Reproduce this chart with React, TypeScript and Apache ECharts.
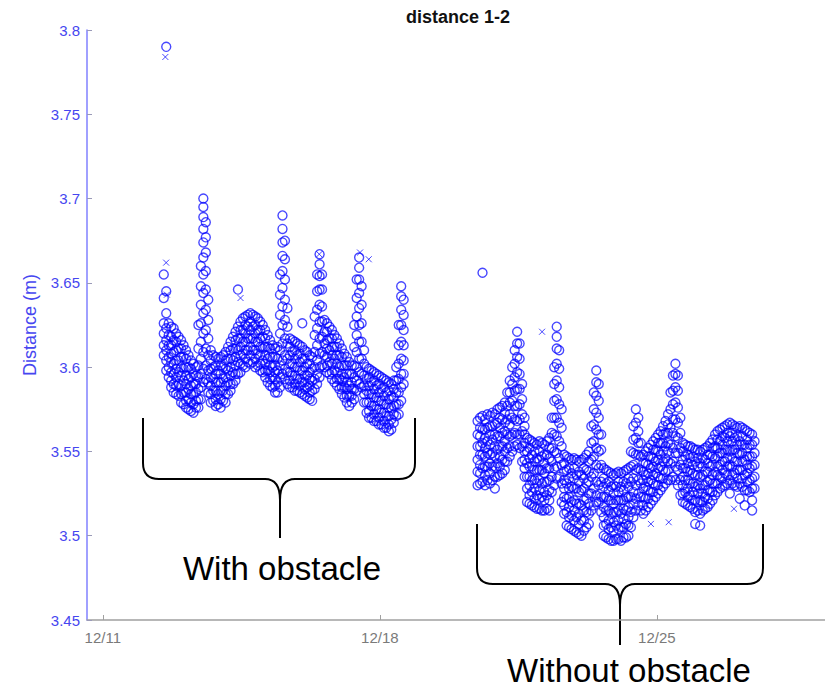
import React, { useEffect, useRef } from "react";
import * as echarts from "echarts";

// ---- Data (days after 12/11 00:00 on x, distance in metres on y) ----
const xTickDays = [0, 7, 14];
const xTickLabels = ["12/11", "12/18", "12/25"];
const yTicks = { min: 3.45, max: 3.8, step: 0.05 };

// sampling grid: one row of readings every 1.5 hours
const sampleStepDays = 1.5 / 24;
const withObstacleStart = 1.54;
const withoutObstacleStart = 9.47;

// readings per 1.5-hour slot, "With obstacle" period
const withObstacle: number[][] = [
  [3.655, 3.641, 3.626, 3.62, 3.613, 3.607],
  [3.79, 3.645, 3.632, 3.623, 3.616, 3.61, 3.604, 3.598],
  [3.626, 3.619, 3.613, 3.606, 3.6, 3.594],
  [3.624, 3.618, 3.613, 3.608, 3.603, 3.597, 3.592, 3.588],
  [3.623, 3.616, 3.609, 3.602, 3.596, 3.59, 3.585],
  [3.62, 3.615, 3.61, 3.604, 3.599, 3.594, 3.589, 3.584],
  [3.618, 3.611, 3.604, 3.597, 3.59, 3.583],
  [3.616, 3.611, 3.606, 3.6, 3.595, 3.589, 3.584, 3.579],
  [3.613, 3.606, 3.599, 3.592, 3.585, 3.578],
  [3.61, 3.605, 3.6, 3.595, 3.59, 3.585, 3.58, 3.576],
  [3.607, 3.6, 3.593, 3.587, 3.581, 3.575],
  [3.604, 3.599, 3.594, 3.589, 3.584, 3.579, 3.574],
  [3.602, 3.596, 3.59, 3.584, 3.578, 3.573],
  [3.6, 3.595, 3.59, 3.585, 3.58, 3.576],
  [3.625, 3.611, 3.601, 3.594, 3.587, 3.581, 3.576],
  [3.66, 3.648, 3.637, 3.626, 3.615, 3.605, 3.596, 3.588, 3.581],
  [3.7, 3.695, 3.689, 3.682, 3.674, 3.665, 3.655, 3.644, 3.632, 3.62, 3.609, 3.599, 3.591],
  [3.686, 3.677, 3.668, 3.657, 3.646, 3.634, 3.622, 3.611, 3.601, 3.593],
  [3.64, 3.628, 3.617, 3.607, 3.598, 3.591, 3.585],
  [3.61, 3.604, 3.599, 3.594, 3.589, 3.584, 3.579],
  [3.607, 3.6, 3.593, 3.586, 3.58],
  [3.606, 3.601, 3.596, 3.591, 3.586, 3.581, 3.577],
  [3.605, 3.598, 3.591, 3.584, 3.578],
  [3.606, 3.601, 3.596, 3.591, 3.586, 3.581, 3.576],
  [3.607, 3.6, 3.593, 3.586, 3.58],
  [3.609, 3.604, 3.599, 3.594, 3.589, 3.584, 3.579],
  [3.612, 3.605, 3.598, 3.591, 3.584],
  [3.615, 3.61, 3.605, 3.6, 3.595, 3.59, 3.586],
  [3.618, 3.611, 3.604, 3.597, 3.59],
  [3.621, 3.616, 3.611, 3.606, 3.601, 3.596, 3.592],
  [3.646, 3.624, 3.617, 3.61, 3.603, 3.596],
  [3.627, 3.622, 3.617, 3.612, 3.607, 3.602, 3.597],
  [3.629, 3.622, 3.615, 3.608, 3.601],
  [3.63, 3.625, 3.62, 3.615, 3.61, 3.605, 3.6],
  [3.631, 3.624, 3.617, 3.61, 3.603],
  [3.632, 3.627, 3.622, 3.617, 3.612, 3.607, 3.602],
  [3.631, 3.624, 3.617, 3.61, 3.603],
  [3.63, 3.625, 3.62, 3.615, 3.61, 3.605, 3.6],
  [3.629, 3.622, 3.615, 3.608, 3.601],
  [3.627, 3.622, 3.617, 3.612, 3.607, 3.602, 3.598],
  [3.625, 3.618, 3.611, 3.604, 3.597],
  [3.622, 3.617, 3.612, 3.607, 3.602, 3.598, 3.594],
  [3.619, 3.612, 3.605, 3.598, 3.591],
  [3.616, 3.611, 3.606, 3.601, 3.597, 3.593, 3.589],
  [3.613, 3.606, 3.6, 3.594, 3.588],
  [3.611, 3.606, 3.601, 3.597, 3.593, 3.589, 3.585],
  [3.612, 3.605, 3.598, 3.591, 3.585],
  [3.655, 3.643, 3.631, 3.62, 3.61, 3.601, 3.594, 3.588],
  [3.69, 3.682, 3.674, 3.666, 3.657, 3.647, 3.636, 3.625, 3.614, 3.604, 3.596],
  [3.675, 3.664, 3.652, 3.64, 3.628, 3.617, 3.607, 3.599, 3.593],
  [3.635, 3.624, 3.614, 3.605, 3.597, 3.59],
  [3.617, 3.612, 3.607, 3.602, 3.597, 3.592, 3.588],
  [3.616, 3.609, 3.602, 3.595, 3.588],
  [3.615, 3.61, 3.605, 3.6, 3.595, 3.59, 3.586],
  [3.614, 3.607, 3.6, 3.593, 3.586],
  [3.613, 3.608, 3.603, 3.598, 3.593, 3.589, 3.585],
  [3.626, 3.612, 3.605, 3.598, 3.591, 3.584],
  [3.61, 3.605, 3.6, 3.595, 3.591, 3.587, 3.583],
  [3.609, 3.602, 3.595, 3.588, 3.582],
  [3.607, 3.602, 3.597, 3.593, 3.589, 3.585, 3.581],
  [3.606, 3.599, 3.592, 3.586, 3.58],
  [3.63, 3.619, 3.609, 3.6, 3.593, 3.587],
  [3.655, 3.645, 3.634, 3.623, 3.613, 3.604, 3.596, 3.59],
  [3.667, 3.661, 3.654, 3.646, 3.637, 3.627, 3.617, 3.608, 3.6, 3.594],
  [3.655, 3.646, 3.636, 3.627, 3.618, 3.609, 3.601],
  [3.628, 3.621, 3.614, 3.607, 3.6],
  [3.626, 3.621, 3.616, 3.611, 3.606, 3.601, 3.597],
  [3.624, 3.617, 3.61, 3.603, 3.596],
  [3.622, 3.617, 3.612, 3.607, 3.602, 3.597, 3.593],
  [3.619, 3.612, 3.605, 3.598, 3.591],
  [3.617, 3.612, 3.607, 3.602, 3.597, 3.593, 3.589],
  [3.614, 3.607, 3.6, 3.593, 3.587],
  [3.611, 3.606, 3.601, 3.596, 3.592, 3.588, 3.584],
  [3.608, 3.601, 3.594, 3.588, 3.582],
  [3.606, 3.601, 3.596, 3.591, 3.587, 3.583, 3.579],
  [3.603, 3.596, 3.589, 3.583, 3.577],
  [3.601, 3.596, 3.591, 3.587, 3.583, 3.579],
  [3.625, 3.612, 3.601, 3.594, 3.587, 3.581],
  [3.652, 3.641, 3.63, 3.619, 3.609, 3.6, 3.592, 3.586],
  [3.665, 3.659, 3.652, 3.644, 3.635, 3.625, 3.615, 3.605, 3.597, 3.59],
  [3.648, 3.637, 3.626, 3.615, 3.605, 3.596, 3.588],
  [3.61, 3.602, 3.595, 3.589, 3.584, 3.579],
  [3.6, 3.593, 3.586, 3.579, 3.573],
  [3.599, 3.594, 3.589, 3.584, 3.579, 3.574, 3.57],
  [3.598, 3.591, 3.584, 3.577, 3.57],
  [3.597, 3.592, 3.587, 3.582, 3.577, 3.572, 3.568],
  [3.596, 3.589, 3.582, 3.575, 3.568],
  [3.595, 3.59, 3.585, 3.58, 3.575, 3.57, 3.566],
  [3.594, 3.587, 3.58, 3.573, 3.566],
  [3.593, 3.588, 3.583, 3.578, 3.573, 3.568, 3.564],
  [3.592, 3.585, 3.578, 3.571, 3.564],
  [3.591, 3.586, 3.581, 3.576, 3.571, 3.566, 3.562],
  [3.59, 3.583, 3.576, 3.569, 3.563],
  [3.592, 3.587, 3.582, 3.577, 3.572, 3.567],
  [3.6, 3.592, 3.585, 3.578, 3.571],
  [3.625, 3.613, 3.602, 3.593, 3.585, 3.578, 3.572],
  [3.648, 3.642, 3.634, 3.625, 3.615, 3.605, 3.596, 3.588, 3.58],
  [3.64, 3.631, 3.622, 3.613, 3.604, 3.596, 3.59],
];

// readings per 1.5-hour slot, "Without obstacle" period
const withoutObstacle: number[][] = [
  [3.568, 3.56, 3.553, 3.545, 3.538, 3.53],
  [3.57, 3.564, 3.559, 3.553, 3.548, 3.542, 3.537, 3.531],
  [3.656, 3.571, 3.563, 3.555, 3.548, 3.54, 3.532],
  [3.569, 3.563, 3.558, 3.552, 3.547, 3.541, 3.536, 3.53],
  [3.572, 3.564, 3.556, 3.549, 3.541, 3.533],
  [3.571, 3.565, 3.56, 3.554, 3.548, 3.543, 3.537, 3.531],
  [3.573, 3.565, 3.557, 3.549, 3.541, 3.533],
  [3.572, 3.566, 3.56, 3.553, 3.547, 3.541, 3.535, 3.528],
  [3.575, 3.567, 3.559, 3.551, 3.543, 3.535],
  [3.576, 3.57, 3.564, 3.559, 3.553, 3.547, 3.541, 3.536],
  [3.577, 3.569, 3.561, 3.553, 3.545, 3.537],
  [3.579, 3.573, 3.567, 3.562, 3.556, 3.55, 3.544, 3.539],
  [3.585, 3.577, 3.569, 3.56, 3.552, 3.544],
  [3.592, 3.585, 3.579, 3.572, 3.566, 3.559, 3.553, 3.547],
  [3.6, 3.59, 3.58, 3.57, 3.56, 3.55],
  [3.61, 3.602, 3.594, 3.586, 3.577, 3.569, 3.561, 3.553],
  [3.621, 3.614, 3.606, 3.597, 3.587, 3.577, 3.568, 3.56, 3.554],
  [3.614, 3.605, 3.596, 3.587, 3.578, 3.569, 3.56, 3.552],
  [3.59, 3.581, 3.572, 3.562, 3.553, 3.544],
  [3.57, 3.565, 3.56, 3.555, 3.55, 3.545, 3.54, 3.535],
  [3.558, 3.55, 3.543, 3.535, 3.528, 3.52],
  [3.557, 3.552, 3.546, 3.541, 3.535, 3.53, 3.524, 3.519],
  [3.556, 3.548, 3.541, 3.533, 3.526, 3.518],
  [3.555, 3.55, 3.544, 3.539, 3.533, 3.528, 3.522, 3.517],
  [3.554, 3.546, 3.539, 3.531, 3.524, 3.516],
  [3.556, 3.55, 3.545, 3.539, 3.533, 3.527, 3.522, 3.516],
  [3.555, 3.547, 3.539, 3.531, 3.523, 3.515],
  [3.554, 3.548, 3.543, 3.537, 3.532, 3.526, 3.521, 3.515],
  [3.556, 3.548, 3.54, 3.532, 3.524, 3.516],
  [3.558, 3.552, 3.546, 3.54, 3.533, 3.527, 3.521, 3.515],
  [3.57, 3.561, 3.552, 3.544, 3.535, 3.526],
  [3.6, 3.59, 3.58, 3.57, 3.56, 3.55, 3.54, 3.53],
  [3.624, 3.618, 3.611, 3.602, 3.592, 3.581, 3.57, 3.559, 3.549, 3.541, 3.534],
  [3.61, 3.599, 3.588, 3.578, 3.567, 3.556, 3.546, 3.535],
  [3.575, 3.564, 3.553, 3.542, 3.531, 3.52],
  [3.548, 3.543, 3.538, 3.533, 3.528, 3.523, 3.518, 3.513],
  [3.547, 3.539, 3.531, 3.522, 3.514, 3.506],
  [3.546, 3.54, 3.534, 3.528, 3.523, 3.517, 3.511, 3.505],
  [3.545, 3.537, 3.529, 3.52, 3.512, 3.504],
  [3.546, 3.54, 3.534, 3.528, 3.521, 3.515, 3.509, 3.503],
  [3.545, 3.536, 3.528, 3.519, 3.511, 3.502],
  [3.544, 3.538, 3.532, 3.526, 3.519, 3.513, 3.507, 3.501],
  [3.545, 3.536, 3.527, 3.518, 3.509, 3.5],
  [3.546, 3.54, 3.534, 3.528, 3.521, 3.515, 3.509, 3.503],
  [3.548, 3.539, 3.531, 3.522, 3.514, 3.505],
  [3.55, 3.544, 3.538, 3.532, 3.525, 3.519, 3.513, 3.507],
  [3.565, 3.555, 3.545, 3.535, 3.525, 3.515],
  [3.585, 3.575, 3.566, 3.556, 3.547, 3.537, 3.528, 3.518],
  [3.598, 3.591, 3.583, 3.573, 3.563, 3.552, 3.542, 3.532, 3.524, 3.52],
  [3.59, 3.58, 3.57, 3.56, 3.55, 3.54, 3.53, 3.52],
  [3.56, 3.551, 3.542, 3.532, 3.523, 3.514],
  [3.54, 3.534, 3.529, 3.523, 3.517, 3.511, 3.506, 3.5],
  [3.539, 3.531, 3.523, 3.515, 3.507, 3.499],
  [3.538, 3.532, 3.527, 3.521, 3.515, 3.509, 3.504, 3.498],
  [3.537, 3.529, 3.521, 3.513, 3.505, 3.497],
  [3.536, 3.53, 3.525, 3.519, 3.514, 3.508, 3.503, 3.497],
  [3.537, 3.529, 3.521, 3.514, 3.506, 3.498],
  [3.538, 3.532, 3.526, 3.521, 3.515, 3.509, 3.504, 3.498],
  [3.537, 3.529, 3.521, 3.513, 3.505, 3.497],
  [3.538, 3.532, 3.527, 3.521, 3.516, 3.51, 3.505, 3.499],
  [3.539, 3.531, 3.523, 3.515, 3.507, 3.499],
  [3.54, 3.534, 3.529, 3.523, 3.517, 3.511, 3.506, 3.5],
  [3.55, 3.541, 3.532, 3.523, 3.514, 3.505],
  [3.565, 3.557, 3.549, 3.542, 3.534, 3.526, 3.519, 3.511],
  [3.575, 3.567, 3.558, 3.548, 3.539, 3.53, 3.522, 3.515],
  [3.57, 3.562, 3.555, 3.548, 3.54, 3.533, 3.525, 3.518],
  [3.555, 3.547, 3.539, 3.531, 3.523, 3.515],
  [3.548, 3.543, 3.538, 3.533, 3.528, 3.523, 3.518, 3.513],
  [3.55, 3.543, 3.536, 3.529, 3.522, 3.515],
  [3.552, 3.547, 3.542, 3.537, 3.532, 3.527, 3.522, 3.517],
  [3.554, 3.547, 3.54, 3.533, 3.526, 3.519],
  [3.556, 3.551, 3.546, 3.541, 3.536, 3.531, 3.526, 3.521],
  [3.558, 3.551, 3.544, 3.537, 3.53, 3.523],
  [3.56, 3.555, 3.55, 3.545, 3.54, 3.535, 3.53, 3.525],
  [3.562, 3.555, 3.548, 3.541, 3.534, 3.527],
  [3.565, 3.56, 3.555, 3.55, 3.544, 3.539, 3.534, 3.529],
  [3.568, 3.561, 3.553, 3.546, 3.538, 3.531],
  [3.572, 3.566, 3.561, 3.555, 3.55, 3.544, 3.539, 3.533],
  [3.585, 3.575, 3.564, 3.554, 3.543, 3.533],
  [3.595, 3.586, 3.578, 3.569, 3.561, 3.552, 3.544, 3.535],
  [3.602, 3.596, 3.588, 3.579, 3.569, 3.559, 3.549, 3.541, 3.533],
  [3.595, 3.586, 3.576, 3.567, 3.558, 3.549, 3.539, 3.53],
  [3.57, 3.561, 3.552, 3.542, 3.533, 3.524],
  [3.555, 3.55, 3.545, 3.54, 3.535, 3.53, 3.525, 3.52],
  [3.554, 3.547, 3.54, 3.533, 3.526, 3.519],
  [3.553, 3.548, 3.543, 3.538, 3.533, 3.528, 3.523, 3.518],
  [3.553, 3.546, 3.539, 3.531, 3.524, 3.517],
  [3.552, 3.547, 3.542, 3.537, 3.531, 3.526, 3.521, 3.516],
  [3.551, 3.544, 3.536, 3.529, 3.521, 3.514, 3.507],
  [3.551, 3.546, 3.541, 3.536, 3.53, 3.525, 3.52, 3.515],
  [3.55, 3.543, 3.535, 3.528, 3.521, 3.513, 3.506],
  [3.551, 3.546, 3.541, 3.536, 3.53, 3.525, 3.52, 3.515],
  [3.552, 3.545, 3.538, 3.53, 3.523, 3.516],
  [3.553, 3.548, 3.543, 3.538, 3.532, 3.527, 3.522, 3.517],
  [3.555, 3.548, 3.541, 3.533, 3.526, 3.519],
  [3.557, 3.552, 3.547, 3.542, 3.536, 3.531, 3.526, 3.521],
  [3.56, 3.553, 3.546, 3.538, 3.531, 3.524],
  [3.562, 3.557, 3.552, 3.547, 3.541, 3.536, 3.531, 3.526],
  [3.563, 3.556, 3.549, 3.542, 3.535, 3.528],
  [3.564, 3.559, 3.554, 3.549, 3.544, 3.539, 3.534, 3.529],
  [3.565, 3.558, 3.551, 3.544, 3.537, 3.53],
  [3.566, 3.561, 3.556, 3.551, 3.546, 3.541, 3.536, 3.531],
  [3.567, 3.559, 3.55, 3.542, 3.533, 3.525],
  [3.566, 3.561, 3.556, 3.551, 3.546, 3.541, 3.536, 3.531],
  [3.565, 3.558, 3.551, 3.544, 3.537, 3.53],
  [3.564, 3.559, 3.554, 3.549, 3.544, 3.539, 3.534, 3.529],
  [3.565, 3.556, 3.548, 3.539, 3.531, 3.522],
  [3.564, 3.559, 3.554, 3.549, 3.544, 3.539, 3.534, 3.529],
  [3.563, 3.554, 3.545, 3.536, 3.527, 3.518],
  [3.562, 3.557, 3.552, 3.547, 3.542, 3.537, 3.532, 3.527],
  [3.561, 3.554, 3.547, 3.54, 3.533, 3.526],
  [3.56, 3.554, 3.547, 3.541, 3.534, 3.528, 3.521, 3.515],
  [3.556, 3.549, 3.542, 3.535, 3.528],
];

// second series (cross markers): [day, distance]
const crossDays = [1.58, 1.6, 1.62, 3.48, 5.47, 6.5, 6.72, 11.1, 13.85, 14.3, 15.95];
const crossValues = [3.784, 3.662, 3.643, 3.641, 3.667, 3.668, 3.664, 3.621, 3.507, 3.508, 3.516];

const annotationTexts = ["With obstacle", "Without obstacle"];

// ---- Annotation shapes (curly braces, pixel paths) ----
const braceWith =
  "M143,418 L143,463 Q143,479 159,479 L265,479 Q280,479 280,500 L280,538 " +
  "M280,500 Q280,479 295,479 L399,479 Q415,479 415,463 L415,418";
const braceWithout =
  "M477,524 L477,568 Q477,584 493,584 L605,584 Q620,584 620,605 L620,645 " +
  "M620,605 Q620,584 635,584 L747,584 Q763,584 763,568 L763,524";

echarts.graphic.registerShape("braceWith", echarts.graphic.extendPath(braceWith, {}));
echarts.graphic.registerShape("braceWithout", echarts.graphic.extendPath(braceWithout, {}));

function rowsToPoints(rows: number[][], start: number): number[][] {
  const pts: number[][] = [];
  rows.forEach((vals, i) => {
    vals.forEach((v) => pts.push([start + i * sampleStepDays, v]));
  });
  return pts;
}

const FONT = '"Liberation Sans", Arial, Helvetica, sans-serif';
const MARK = "rgba(0,0,255,0.9)";

export default function App() {
  const ref = useRef<HTMLDivElement>(null);

  useEffect(() => {
    if (!ref.current) return;
    const chart = echarts.init(ref.current, null, { renderer: "svg" });

    const circlePts = [
      ...rowsToPoints(withObstacle, withObstacleStart),
      ...rowsToPoints(withoutObstacle, withoutObstacleStart),
    ];
    const crossPts = crossDays.map((d, i) => [d, crossValues[i]]);

    chart.setOption({
      animation: false,
      backgroundColor: "#ffffff",
      textStyle: { fontFamily: FONT },
      title: {
        text: "distance 1-2",
        left: 406,
        top: 8,
        padding: 0,
        textStyle: { fontSize: 18, fontWeight: "bold", color: "#111", fontFamily: FONT },
      },
      grid: { left: 87, right: 0, top: 30, bottom: 67, containLabel: false },
      xAxis: {
        type: "value",
        min: -0.4,
        max: 18.25,
        splitLine: { show: false },
        axisLine: { show: true, onZero: false, lineStyle: { color: "#a0a0a0", width: 1.5 } },
        axisTick: {
          show: true,
          inside: true,
          length: 5,
          customValues: xTickDays,
          lineStyle: { color: "#a0a0a0" },
        },
        axisLabel: {
          customValues: xTickDays,
          color: "#7a7a7a",
          fontSize: 15,
          margin: 10,
          formatter: (v: number) => {
            const idx = xTickDays.indexOf(Math.round(v));
            return idx >= 0 ? xTickLabels[idx] : "";
          },
        },
      },
      yAxis: {
        type: "value",
        min: yTicks.min,
        max: yTicks.max,
        interval: yTicks.step,
        name: "Distance (m)",
        nameLocation: "middle",
        nameGap: 48,
        nameTextStyle: { color: "#4646f0", fontSize: 18, fontFamily: FONT },
        splitLine: { show: false },
        axisLine: { show: true, onZero: false, lineStyle: { color: "#8080ff", width: 1.5 } },
        axisTick: { show: true, inside: true, length: 5, lineStyle: { color: "#9a9ab8" } },
        axisLabel: {
          color: "#4646f0",
          fontSize: 15,
          margin: 7,
          formatter: (v: number) => String(+v.toFixed(2)),
        },
      },
      series: [
        {
          type: "scatter",
          data: circlePts,
          symbol: "circle",
          symbolSize: 9,
          progressive: 0,
          large: false,
          itemStyle: {
            color: "rgba(255,255,255,0)",
            borderColor: MARK,
            borderWidth: 1.4,
          },
          emphasis: { disabled: true },
        },
        {
          type: "scatter",
          data: crossPts,
          symbol: "path://M0,0L10,10M10,0L0,10",
          symbolSize: 6,
          itemStyle: {
            color: "rgba(255,255,255,0)",
            borderColor: MARK,
            borderWidth: 1,
          },
          emphasis: { disabled: true },
        },
      ],
      graphic: [
        {
          type: "braceWith",
          x: 0,
          y: 0,
          silent: true,
          style: { fill: "none", stroke: "#000", lineWidth: 2 },
        },
        {
          type: "braceWithout",
          x: 0,
          y: 0,
          silent: true,
          style: { fill: "none", stroke: "#000", lineWidth: 2 },
        },
        {
          type: "text",
          x: 282,
          y: 568,
          silent: true,
          style: {
            text: annotationTexts[0],
            font: `33px ${FONT}`,
            fill: "#000",
            textAlign: "center",
            textVerticalAlign: "middle",
          },
        },
        {
          type: "text",
          x: 629,
          y: 670,
          silent: true,
          style: {
            text: annotationTexts[1],
            font: `33px ${FONT}`,
            fill: "#000",
            textAlign: "center",
            textVerticalAlign: "middle",
          },
        },
      ],
    });

    return () => chart.dispose();
  }, []);

  return (
    <div
      ref={ref}
      style={{ position: "absolute", left: 0, top: 0, width: 825, height: 687 }}
    />
  );
}
